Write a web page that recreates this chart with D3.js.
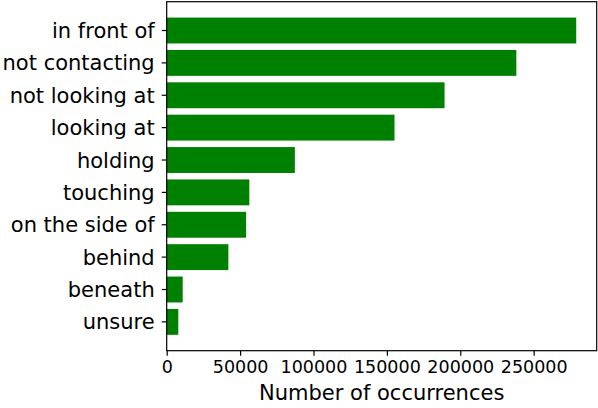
<!DOCTYPE html>
<html>
<head>
<meta charset="utf-8">
<script src="https://cdn.jsdelivr.net/npm/d3@7"></script>
<style>
    body { margin: 0; background: #fff; }
    text { font-family: "DejaVu Sans", sans-serif; fill: #000; }
</style>
</head>
<body>
<svg id="chart" width="598" height="408"></svg>
<script>
// relation labels, top to bottom
var categories = ["in front of", "not contacting", "not looking at", "looking at", "holding",
    "touching", "on the side of", "behind", "beneath", "unsure"];
var counts = [279000, 238200, 189300, 155200, 87300, 56300, 54100, 42000, 10900, 7900];
var x_ticks = [0, 50000, 100000, 150000, 200000, 250000];

var width = 598, height = 408;
var margin = {top: 1.7, right: 1.3, bottom: 57.3, left: 166.7};
var bar_height = 0.8;

var svg = d3.select("#chart");
var g = svg.append("g")
    .attr("transform", "translate(" + margin.left + "," + margin.top + ")");
var inner_w = width - margin.left - margin.right;
var inner_h = height - margin.top - margin.bottom;

// matplotlib style 5% margins
var x_max = d3.max(counts) * 1.05;
var x = d3.scaleLinear().domain([0, x_max]).range([0, inner_w]);
var span = (categories.length - 1) + bar_height;
var pad = span * 0.05;
var y = d3.scaleLinear()
    .domain([-bar_height / 2 - pad, categories.length - 1 + bar_height / 2 + pad])
    .range([0, inner_h]);

g.selectAll("rect.bar")
    .data(counts)
    .enter()
    .append("rect")
    .attr("class", "bar")
    .attr("x", x(0))
    .attr("y", function (d, i) { return y(i - bar_height / 2); })
    .attr("width", function (d) { return x(d) - x(0); })
    .attr("height", function (d, i) { return y(i + bar_height / 2) - y(i - bar_height / 2); })
    .attr("fill", "#008000");

// frame
g.append("rect")
    .attr("x", 0).attr("y", 0)
    .attr("width", inner_w).attr("height", inner_h)
    .attr("fill", "none")
    .attr("stroke", "#000")
    .attr("stroke-width", 1.2);

// y axis ticks + labels
var y_axis = g.append("g").attr("class", "y-axis");
categories.forEach(function (c, i) {
    y_axis.append("line")
        .attr("x1", -5).attr("x2", 0)
        .attr("y1", y(i)).attr("y2", y(i))
        .attr("stroke", "#000").attr("stroke-width", 1.2);
    y_axis.append("text")
        .attr("x", -12)
        .attr("y", y(i))
        .attr("dy", "0.36em")
        .attr("text-anchor", "end")
        .style("font-size", "21px")
        .text(c);
});

// x axis
var x_axis = g.append("g")
    .attr("transform", "translate(0," + inner_h + ")")
    .call(d3.axisBottom(x).tickValues(x_ticks).tickFormat(d3.format("d")).tickSize(5).tickPadding(5));
x_axis.select(".domain").remove();
x_axis.selectAll("line").attr("stroke", "#000").attr("stroke-width", 1.2);
x_axis.selectAll("text")
    .style("font-family", "DejaVu Sans, sans-serif")
    .style("font-size", "17.5px")
    .attr("fill", "#000");

g.append("text")
    .attr("x", inner_w / 2)
    .attr("y", inner_h + 49)
    .attr("text-anchor", "middle")
    .style("font-size", "21px")
    .text("Number of occurrences");
</script>
</body>
</html>
